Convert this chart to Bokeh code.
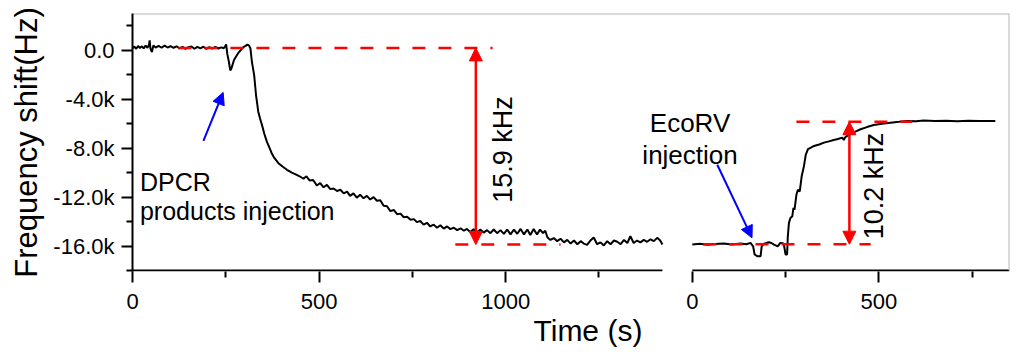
from bokeh.plotting import figure
from bokeh.models import Range1d, FixedTicker, Arrow, NormalHead, Label, Title
from bokeh.embed import file_html
from bokeh.resources import INLINE

# ---------------- data ----------------
# left panel: DPCR products injection
left_time = [0, 5, 10, 15, 20, 25, 30, 35, 40, 44, 46, 48, 52, 56, 62, 70, 78, 86, 94, 102,
             110, 118, 126, 134, 142, 150, 158, 166, 174, 182, 190, 198, 206, 214, 222, 230,
             238, 244, 248, 251, 254, 258, 262, 265, 268, 272, 278, 284, 290, 297, 303, 308,
             312, 316, 320, 326, 331, 337, 342, 347, 353, 360, 366, 373, 380, 391, 402, 414,
             427, 440, 449, 458, 466, 475, 484, 494, 503, 512, 521, 530, 539, 548, 557, 566,
             575, 583, 592, 601, 610, 619, 628, 637, 646, 655, 664, 673, 682, 691, 700, 709,
             718, 727, 736, 745, 754, 762, 771, 780, 789, 798, 807, 816, 825, 834, 843, 852,
             861, 870, 879, 888, 896, 905, 914, 923, 932, 941, 950, 959, 968, 977, 986, 995,
             1004, 1013, 1022, 1031, 1040, 1049, 1058, 1066, 1075, 1084, 1092, 1100, 1106,
             1112, 1120, 1129, 1138, 1147, 1156, 1165, 1174, 1183, 1192, 1201, 1209, 1218,
             1227, 1236, 1245, 1254, 1263, 1272, 1281, 1290, 1299, 1308, 1317, 1326, 1334,
             1343, 1352, 1361, 1370, 1379, 1388, 1397, 1406, 1414, 1420]
left_shift = [150, 300, 120, 350, 180, 320, 150, 380, 200, 420, 800, 150, -150, 380, 220, 350,
              200, 380, 220, 340, 200, 320, 150, 280, 100, 250, 300, 120, 280, 150, 290, 100,
              260, 120, 270, 140, 230, 160, 300, 480, -300, -900, -1650, -1500, -1200, -800,
              -500, -200, 0, 250, 350, 450, 400, 150, -950, -2040, -3660, -5020, -5600, -6110,
              -6800, -7470, -7900, -8410, -8800, -9230, -9500, -9770, -10000, -10180, -10320,
              -10500, -10300, -10650, -10600, -11050, -10850, -11200, -11000, -11350, -11300,
              -11500, -11400, -11700, -11550, -11900, -11700, -12050, -11800, -12100, -11900,
              -12200, -12000, -12300, -12250, -12700, -12750, -13150, -13050, -13400, -13350,
              -13650, -13600, -13850, -13800, -14050, -13950, -14250, -14100, -14400, -14250,
              -14500, -14300, -14580, -14400, -14620, -14500, -14700, -14550, -14750, -14600,
              -14850, -14620, -14880, -14650, -14900, -14700, -14950, -14650, -14950, -14700,
              -15000, -14650, -15050, -14650, -15000, -14600, -15050, -14650, -15100, -14600,
              -15050, -14650, -14950, -14750, -15300, -15500, -15350, -15600, -15400, -15700,
              -15500, -15800, -15550, -15850, -15600, -15800, -15900, -15550, -15300, -15850,
              -15700, -15950, -15600, -15850, -15550, -15650, -15850, -15500, -15750, -15200,
              -15750, -15550, -15700, -15500, -15650, -15450, -15600, -15330, -15550, -15880]

# right panel: EcoRV injection
right_time = [0, 20, 40, 60, 85, 105, 129, 145, 156, 163, 167, 174, 183, 186, 192, 205, 212,
              219, 229, 236, 245, 250, 254, 256, 259, 263, 268, 271, 274, 279, 283, 288, 293,
              299, 304, 310, 318, 326, 340, 353, 366, 379, 390, 402, 406, 410, 424, 437, 451,
              468, 486, 508, 531, 554, 576, 600, 620, 650, 680, 710, 740, 770, 800, 812]
right_shift = [-15880, -15820, -15900, -15830, -15800, -15880, -15790, -15850, -15740, -16020,
               -16690, -16830, -16830, -16020, -15800, -15690, -15750, -15880, -16020, -15740,
               -15800, -16690, -16690, -15200, -14110, -13710, -13570, -12890, -13030, -11810,
               -11400, -11540, -10320, -9500, -8550, -8090, -7950, -7820, -7700, -7550, -7450,
               -7330, -7250, -7140, -7330, -7100, -6840, -6650, -6460, -6280, -6110, -6000,
               -5920, -5850, -5780, -5800, -5750, -5790, -5760, -5800, -5770, -5790, -5780,
               -5790]

left_end = 1420
right_end = 850

x_ticks_left = [0, 500, 1000]
x_minor_left = [250, 750, 1250]
x_ticks_right = [0, 500]
x_minor_right = [250, 750]
y_ticks = [0, -4000, -8000, -12000, -16000]
y_minor = [2000, -2000, -6000, -10000, -14000, -18000]
y_tick_labels = ["0.0", "-4.0k", "-8.0k", "-12.0k", "-16.0k"]

# annotation levels (Hz) and times (s)
left_top_level, left_bottom_level = 190, -15880
left_top_span, left_bottom_span = (123, 965), (865, 1147)
left_arrow_t = 920
right_bottom_level, right_top_level = -15850, -5840
right_bottom_span, right_top_span = (30, 478), (279, 589)
right_arrow_t = 421
blue_left = (190, -7410, 243, -3450)
blue_right = (67, -9360, 160, -15330)

# ---------------- figure ----------------
BREAK = 1500        # where the right panel starts on the shared canvas
FONT = "Liberation Sans"

p = figure(frame_width=877, frame_height=258,
           x_range=Range1d(0, BREAK + right_end), y_range=Range1d(-18080, 3000),
           min_border_left=132, min_border_top=13, min_border_right=6, min_border_bottom=80,
           output_backend="svg", toolbar_location=None)
p.extra_x_ranges = {"right": Range1d(-BREAK, right_end)}
p.xgrid.visible = False
p.ygrid.visible = False
p.outline_line_color = None
p.background_fill_color = "white"

# axes styling
xt = x_ticks_left + [t + BREAK for t in x_ticks_right]
xm = x_minor_left + [t + BREAK for t in x_minor_right]
p.xaxis.ticker = FixedTicker(ticks=xt, minor_ticks=xm)
p.xaxis.major_label_overrides = {t + BREAK: str(t) for t in x_ticks_right} | {t: str(t) for t in x_ticks_left}
p.yaxis.ticker = FixedTicker(ticks=y_ticks, minor_ticks=y_minor)
p.yaxis.major_label_overrides = dict(zip(y_ticks, y_tick_labels))
for ax in (p.xaxis, p.yaxis):
    ax.axis_line_width = 2
    ax.axis_line_color = "black"
    ax.major_tick_in = 0
    ax.major_tick_out = 11
    ax.minor_tick_in = 0
    ax.minor_tick_out = 6
    ax.major_tick_line_width = 2
    ax.minor_tick_line_width = 2
    ax.major_tick_line_color = "black"
    ax.minor_tick_line_color = "black"
    ax.major_label_text_font = FONT
    ax.major_label_text_font_size = "22px"
    ax.major_label_text_color = "black"
p.xaxis.axis_line_color = None
p.xaxis.major_label_standoff = 11
p.yaxis.major_label_standoff = 7
p.yaxis.axis_label = "Frequency shift(Hz)"
p.yaxis.axis_label_text_font = FONT
p.yaxis.axis_label_text_font_size = "31px"
p.yaxis.axis_label_text_font_style = "normal"
p.yaxis.axis_label_text_color = "black"
p.yaxis.axis_label_standoff = 6

# x axis title placed under the left panel
p.add_layout(Title(text="Time (s)", align="left", offset=401, standoff=0,
                   text_font=FONT, text_font_size="30px", text_font_style="normal",
                   text_color="black"), "below")

# broken bottom axis line and light frame border
p.line([0, left_end], [-18000, -18000], line_color="black", line_width=2)
p.line([0, right_end], [-18000, -18000], line_color="black", line_width=2, x_range_name="right")
p.line([0, BREAK + right_end], [3000, 3000], line_color="#b8b8b8", line_width=2)
p.line([BREAK + right_end] * 2, [-18000, 3000], line_color="#b8b8b8", line_width=2)

# curves
p.line(left_time, left_shift, line_color="black", line_width=2)
p.line(right_time, right_shift, line_color="black", line_width=2, x_range_name="right")

# red dashed guides
dash = dict(line_color="#ff0000", line_width=2.5, line_dash="13 13")
p.line(list(left_top_span), [left_top_level] * 2, **dash)
p.line(list(left_bottom_span), [left_bottom_level] * 2, **dash)
p.line(list(right_bottom_span), [right_bottom_level] * 2, x_range_name="right", **dash)
p.line(list(right_top_span), [right_top_level] * 2, x_range_name="right", **dash)

def head(c, s):
    return NormalHead(size=s, fill_color=c, line_color=c, line_width=1)

p.add_layout(Arrow(start=head("#ff0000", 13), end=head("#ff0000", 13),
                   x_start=left_arrow_t, y_start=left_top_level,
                   x_end=left_arrow_t, y_end=left_bottom_level,
                   line_color="#ff0000", line_width=2.5))
p.add_layout(Arrow(start=head("#ff0000", 13), end=head("#ff0000", 13),
                   x_start=right_arrow_t, y_start=right_top_level,
                   x_end=right_arrow_t, y_end=right_bottom_level,
                   line_color="#ff0000", line_width=2.5, x_range_name="right"))
p.add_layout(Arrow(end=head("#0000ff", 12), x_start=blue_left[0], y_start=blue_left[1],
                   x_end=blue_left[2], y_end=blue_left[3], line_color="#0000ff", line_width=2))
p.add_layout(Arrow(end=head("#0000ff", 12), x_start=blue_right[0], y_start=blue_right[1],
                   x_end=blue_right[2], y_end=blue_right[3], line_color="#0000ff", line_width=2,
                   x_range_name="right"))

# texts
txt = dict(text_font=FONT, text_color="black")
p.add_layout(Label(x=20, y=-10808, text="DPCR", text_font_size="25px", text_align="left",
                   text_baseline="alphabetic", **txt))
p.add_layout(Label(x=20, y=-13096, text="products injection", text_font_size="25px",
                   text_align="left", text_baseline="alphabetic", **txt))
p.add_layout(Label(x=-6, y=-5906, text="EcoRV", text_font_size="26px", text_align="center",
                   text_baseline="alphabetic", x_range_name="right", **txt))
p.add_layout(Label(x=-6, y=-8521, text="injection", text_font_size="26px", text_align="center",
                   text_baseline="alphabetic", x_range_name="right", **txt))
p.add_layout(Label(x=994, y=-8112, text="15.9 kHz", angle=1.5708, text_font_size="27px",
                   text_align="center", text_baseline="middle", **txt))
p.add_layout(Label(x=486, y=-11094, text="10.2 kHz", angle=1.5708, text_font_size="27px",
                   text_align="center", text_baseline="middle", x_range_name="right", **txt))

open("out.html", "w").write(file_html(p, INLINE))
